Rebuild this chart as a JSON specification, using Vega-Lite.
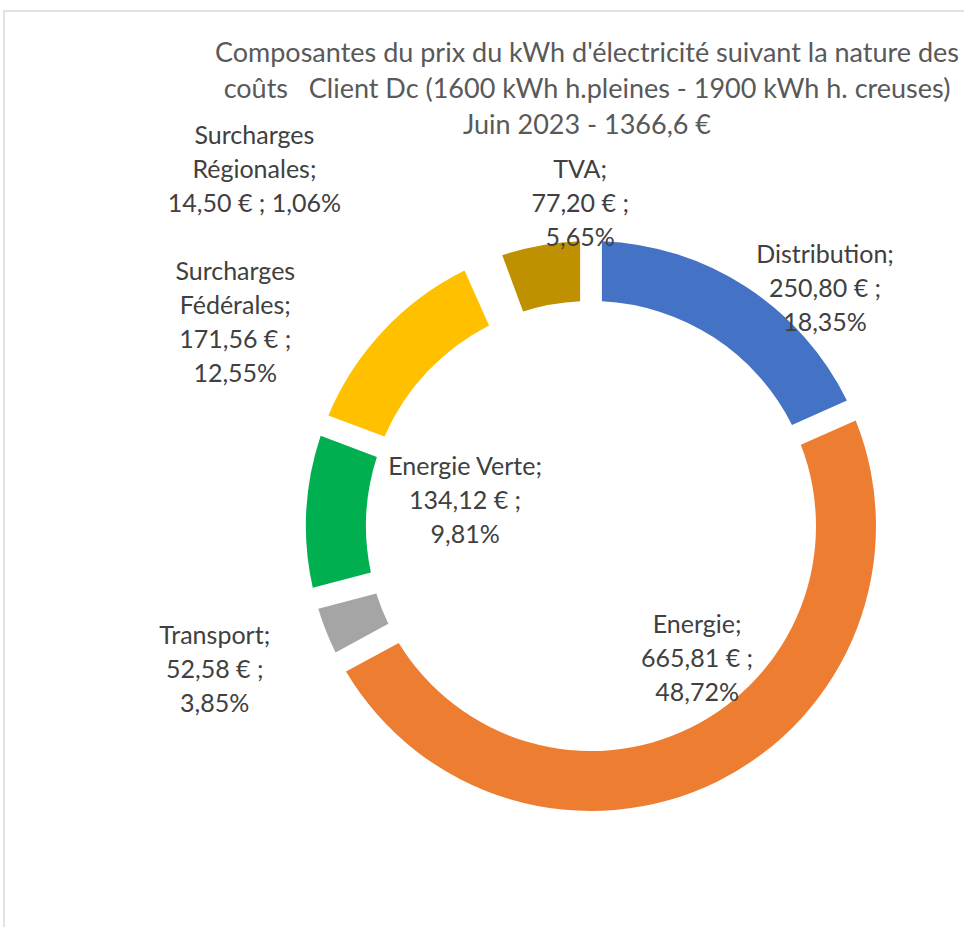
{
  "$schema": "https://vega.github.io/schema/vega-lite/v6.json",
  "width": 1174,
  "height": 1030,
  "padding": {"left": 4, "top": 11, "right": 0, "bottom": 0},
  "background": "white",
  "view": {"stroke": "#d9d9d9", "strokeWidth": 1.5},
  "config": {"view": {"stroke": "#d9d9d9", "strokeWidth": 1.5}},
  "title": {
    "text": ["Composantes du prix du kWh d'électricité suivant la nature des", "coûts\u00a0\u00a0\u00a0Client Dc (1600 kWh h.pleines - 1900 kWh h. creuses)", "Juin 2023 - 1366,6 €"],
    "font": "Lato",
    "fontSize": 27,
    "fontWeight": "normal",
    "color": "#595959",
    "lineHeight": 36,
    "anchor": "middle",
    "dx": -4,
    "offset": -129
  },
  "data": {
    "values": [
      {"ordre": 1, "nom": "Distribution", "valeur": 250.80, "label": ["Distribution;", "250,80 € ;", "18,35%"]},
      {"ordre": 2, "nom": "Energie", "valeur": 665.81, "label": ["Energie;", "665,81 € ;", "48,72%"]},
      {"ordre": 3, "nom": "Transport", "valeur": 52.58, "label": ["Transport;", "52,58 € ;", "3,85%"]},
      {"ordre": 4, "nom": "Energie Verte", "valeur": 134.12, "label": ["Energie Verte;", "134,12 € ;", "9,81%"]},
      {"ordre": 5, "nom": "Surcharges Fédérales", "valeur": 171.56, "label": ["Surcharges", "Fédérales;", "171,56 € ;", "12,55%"]},
      {"ordre": 6, "nom": "Surcharges Régionales", "valeur": 14.50, "label": ["Surcharges", "Régionales;", "14,50 € ; 1,06%"]},
      {"ordre": 7, "nom": "TVA", "valeur": 77.20, "label": ["TVA;", "77,20 € ;", "5,65%"]}
    ]
  },
  "encoding": {
    "theta": {"field": "valeur", "type": "quantitative", "stack": true},
    "order": {"field": "ordre", "type": "quantitative"}
  },
  "layer": [
    {
      "mark": {"type": "arc", "outerRadius": 285, "innerRadius": 225, "padAngle": 0.06},
      "encoding": {
        "color": {
          "field": "nom",
          "type": "nominal",
          "scale": {
            "domain": ["Distribution", "Energie", "Transport", "Energie Verte", "Surcharges Fédérales", "Surcharges Régionales", "TVA"],
            "range": ["#4472C4", "#ED7D31", "#A5A5A5", "#00B050", "#FFC000", "#FFD966", "#BF9000"]
          },
          "legend": null
        }
      }
    },
    {
      "mark": {"type": "text", "radius": 358, "thetaOffset": 0.136, "font": "Lato", "fontSize": 25, "lineHeight": 34, "color": "#404040", "align": "center", "baseline": "middle"},
      "encoding": {"text": {"condition": {"test": "datum.nom === 'Distribution'", "field": "label"}, "value": ""}}
    },
    {
      "mark": {"type": "text", "radius": 145, "thetaOffset": -0.363, "font": "Lato", "fontSize": 25, "lineHeight": 34, "color": "#404040", "align": "center", "baseline": "middle"},
      "encoding": {"text": {"condition": {"test": "datum.nom === 'Energie'", "field": "label"}, "value": ""}}
    },
    {
      "mark": {"type": "text", "radius": 392, "thetaOffset": 0.093, "font": "Lato", "fontSize": 25, "lineHeight": 34, "color": "#404040", "align": "center", "baseline": "middle"},
      "encoding": {"text": {"condition": {"test": "datum.nom === 'Transport'", "field": "label"}, "value": ""}}
    },
    {
      "mark": {"type": "text", "radius": 139, "thetaOffset": 0.385, "font": "Lato", "fontSize": 25, "lineHeight": 34, "color": "#404040", "align": "center", "baseline": "middle"},
      "encoding": {"text": {"condition": {"test": "datum.nom === 'Energie Verte'", "field": "label"}, "value": ""}}
    },
    {
      "mark": {"type": "text", "radius": 437, "thetaOffset": -0.135, "font": "Lato", "fontSize": 25, "lineHeight": 34, "color": "#404040", "align": "center", "baseline": "middle"},
      "encoding": {"text": {"condition": {"test": "datum.nom === 'Surcharges Fédérales'", "field": "label"}, "value": ""}}
    },
    {
      "mark": {"type": "text", "radius": 515, "thetaOffset": -0.324, "font": "Lato", "fontSize": 25, "lineHeight": 34, "color": "#404040", "align": "center", "baseline": "middle"},
      "encoding": {"text": {"condition": {"test": "datum.nom === 'Surcharges Régionales'", "field": "label"}, "value": ""}}
    },
    {
      "mark": {"type": "text", "radius": 356, "thetaOffset": 0.147, "font": "Lato", "fontSize": 25, "lineHeight": 34, "color": "#404040", "align": "center", "baseline": "middle"},
      "encoding": {"text": {"condition": {"test": "datum.nom === 'TVA'", "field": "label"}, "value": ""}}
    }
  ]
}
